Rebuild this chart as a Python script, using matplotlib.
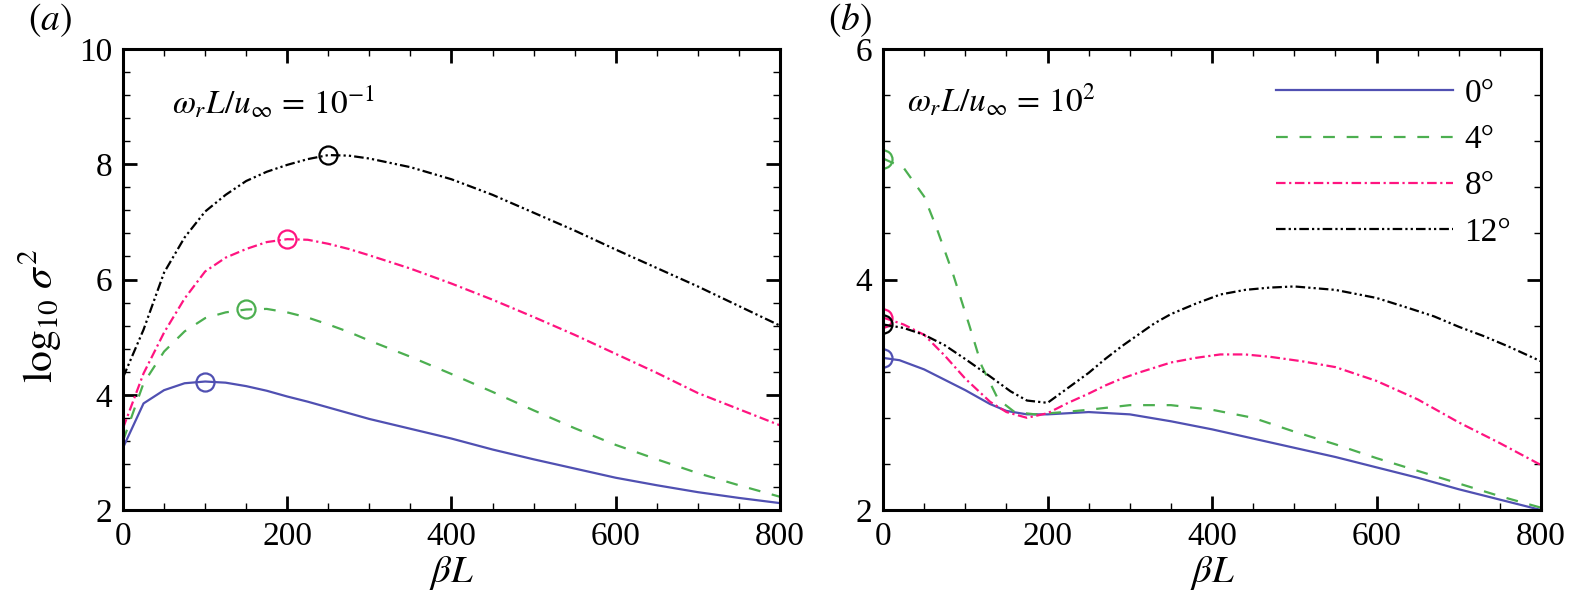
import numpy as np
import matplotlib
matplotlib.use('Agg')
import matplotlib.pyplot as plt
from matplotlib.ticker import MultipleLocator

plt.rcParams['font.family'] = ['Liberation Serif', 'DejaVu Serif']
plt.rcParams['mathtext.fontset'] = 'stix'

# ---- data ----
angles = ['0°', '4°', '8°', '12°']

# panel (a): omega_r L / u_inf = 10^-1
a_x = [0, 25, 50, 75, 100, 125, 150, 175, 200, 225, 250, 275, 300, 350, 400, 450, 500, 550, 600, 650, 700, 750, 800]
a_0 = [3.08, 3.85, 4.08, 4.20, 4.23, 4.21, 4.15, 4.07, 3.97, 3.88, 3.78, 3.68, 3.58, 3.41, 3.24, 3.05, 2.88, 2.72, 2.56, 2.43, 2.31, 2.21, 2.12]
a_4 = [3.20, 4.20, 4.75, 5.10, 5.33, 5.43, 5.48, 5.49, 5.43, 5.34, 5.22, 5.09, 4.94, 4.66, 4.36, 4.05, 3.73, 3.42, 3.13, 2.88, 2.64, 2.43, 2.23]
a_8 = [3.42, 4.37, 5.08, 5.67, 6.14, 6.38, 6.53, 6.65, 6.70, 6.69, 6.62, 6.53, 6.42, 6.19, 5.93, 5.65, 5.35, 5.04, 4.71, 4.38, 4.03, 3.75, 3.47]
a_12 = [4.30, 5.13, 6.12, 6.73, 7.18, 7.47, 7.71, 7.87, 7.99, 8.09, 8.16, 8.15, 8.10, 7.95, 7.74, 7.47, 7.16, 6.85, 6.52, 6.20, 5.88, 5.54, 5.20]
a_peak_x = [100, 150, 200, 250]
a_peak_y = [4.23, 5.48, 6.70, 8.16]

# panel (b): omega_r L / u_inf = 10^2
b_x0 = [0, 20, 50, 75, 100, 130, 150, 175, 200, 250, 300, 350, 400, 450, 500, 550, 600, 650, 700, 750, 800]
b_0 = [3.32, 3.30, 3.22, 3.13, 3.04, 2.92, 2.86, 2.83, 2.83, 2.85, 2.83, 2.77, 2.70, 2.62, 2.54, 2.46, 2.37, 2.28, 2.18, 2.09, 2.00]
b_x4 = [0, 25, 50, 65, 85, 105, 120, 140, 160, 185, 220, 250, 300, 350, 400, 450, 500, 550, 600, 650, 700, 750, 800]
b_4 = [5.05, 4.97, 4.72, 4.45, 4.05, 3.60, 3.25, 2.96, 2.85, 2.83, 2.85, 2.87, 2.91, 2.91, 2.87, 2.80, 2.68, 2.57, 2.45, 2.34, 2.23, 2.12, 2.02]
b_x8 = [0, 25, 50, 75, 100, 130, 150, 175, 200, 225, 250, 270, 290, 310, 350, 380, 410, 440, 470, 510, 550, 600, 650, 700, 750, 800]
b_8 = [3.67, 3.61, 3.52, 3.34, 3.14, 2.94, 2.85, 2.80, 2.84, 2.93, 3.01, 3.08, 3.14, 3.19, 3.28, 3.32, 3.35, 3.35, 3.33, 3.29, 3.24, 3.12, 2.96, 2.76, 2.58, 2.39]
b_x12 = [0, 25, 50, 75, 100, 130, 155, 175, 200, 225, 250, 270, 290, 310, 330, 350, 380, 410, 440, 470, 500, 550, 600, 640, 670, 700, 730, 760, 800]
b_12 = [3.61, 3.58, 3.52, 3.43, 3.31, 3.16, 3.03, 2.95, 2.93, 3.06, 3.19, 3.31, 3.42, 3.52, 3.62, 3.70, 3.79, 3.87, 3.91, 3.93, 3.94, 3.91, 3.84, 3.75, 3.68, 3.59, 3.51, 3.42, 3.29]
b_peak_x = [0, 0, 0, 0]
b_peak_y = [3.32, 5.05, 3.67, 3.61]

colors = ['#5050B2', '#4CAF50', '#FF1480', 'black']
styles = ['-', (0, (5.3, 5.3)), (0, (4.3, 1.6, 1.0, 1.6)), (0, (4.3, 1.4, 1.0, 1.4, 1.0, 1.4))]
lw = 1.6

fig = plt.figure(figsize=(15.69, 6.04), dpi=100)
ax1 = fig.add_axes([0.0784, 0.1556, 0.4187, 0.7632])
ax2 = fig.add_axes([0.5628, 0.1556, 0.4194, 0.7632])

# 左圖: 各角度曲線與峰值圈
a_series = [a_0, a_4, a_8, a_12]
for y, c, ls, px, py in zip(a_series, colors, styles, a_peak_x, a_peak_y):
    ax1.plot(a_x, y, color=c, linestyle=ls, lw=lw)
    ax1.plot(px, py, 'o', ms=13, mfc='none', mec=c, mew=1.6)

# 右圖
b_xs = [b_x0, b_x4, b_x8, b_x12]
b_series = [b_0, b_4, b_8, b_12]
handles = []
for x, y, c, ls, px, py, lab in zip(b_xs, b_series, colors, styles, b_peak_x, b_peak_y, angles):
    h, = ax2.plot(x, y, color=c, linestyle=ls, lw=lw, label=lab)
    handles.append(h)
    ax2.plot(px, py, 'o', ms=13, mfc='none', mec=c, mew=1.6)

for ax in (ax1, ax2):
    ax.set_xlim(0, 800)
    ax.xaxis.set_major_locator(MultipleLocator(200))
    ax.xaxis.set_minor_locator(MultipleLocator(50))
    ax.yaxis.set_minor_locator(MultipleLocator(0.4))
    ax.tick_params(which='both', direction='in', top=True, right=True, labelsize=24)
    ax.tick_params(which='major', length=10, width=2, pad=8)
    ax.tick_params(which='minor', length=5, width=1)
    for s in ax.spines.values():
        s.set_linewidth(2.2)
    ax.set_xlabel(r'$\beta L$', fontsize=28, labelpad=2)

ax1.set_ylim(2, 10)
ax1.yaxis.set_major_locator(MultipleLocator(2))
ax2.set_ylim(2, 6)
ax2.yaxis.set_major_locator(MultipleLocator(2))

ax1.set_ylabel(r'$\log_{10}\,\sigma^2$', fontsize=30)
ax1.yaxis.set_label_coords(-0.09, 0.42)

ax1.text(0.0746, 0.861, r'$\omega_r L/u_\infty\,=\,10^{-1}$', transform=ax1.transAxes,
         fontsize=24, va='baseline', ha='left')
ax2.text(0.0365, 0.863, r'$\omega_r L/u_\infty\,=\,10^{2}$', transform=ax2.transAxes,
         fontsize=24, va='baseline', ha='left')

fig.text(0.018, 1 - 30 / 604, r'$(a)$', fontsize=27, va='baseline', ha='left')
fig.text(0.528, 1 - 30 / 604, r'$(b)$', fontsize=27, va='baseline', ha='left')

ax2.legend(handles=handles, loc='upper right', bbox_to_anchor=(0.975, 0.965), frameon=False,
           fontsize=24, handlelength=5.3, handletextpad=0.35, labelspacing=0.47,
           borderaxespad=0)

fig.savefig('out.png', dpi=100)
